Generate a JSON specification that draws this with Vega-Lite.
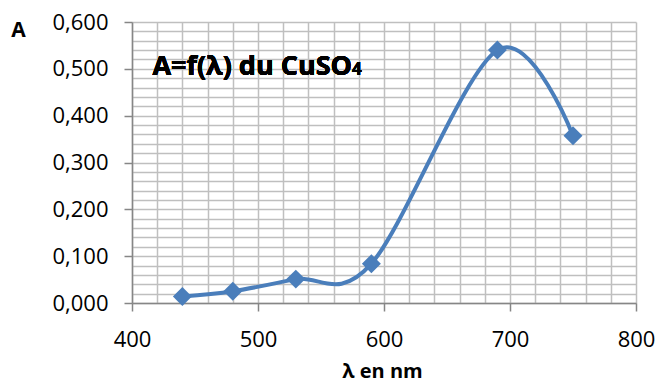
{
  "$schema": "https://vega.github.io/schema/vega-lite/v6.json",
  "autosize": {"type": "none"},
  "width": 504,
  "height": 281,
  "padding": {"left": 132, "top": 22, "right": 23, "bottom": 84},
  "background": "white",
  "config": {
    "view": {"stroke": null},
    "font": "Open Sans",
    "axis": {
      "labelFont": "Open Sans",
      "labelFontSize": 22,
      "labelColor": "#000000",
      "labelFlush": false,
      "labelOverlap": false,
      "titleFont": "Open Sans",
      "titleFontWeight": "bold",
      "titleColor": "#000000",
      "gridColor": "#bfbfbf",
      "gridWidth": 1.5,
      "domainColor": "#868686",
      "domainWidth": 1.5,
      "tickColor": "#868686",
      "tickWidth": 1.5,
      "tickSize": 8
    }
  },
  "data": {
    "values": [
      {"lambda": 440, "A": 0.014},
      {"lambda": 480, "A": 0.025},
      {"lambda": 530, "A": 0.051},
      {"lambda": 590, "A": 0.084},
      {"lambda": 690, "A": 0.540},
      {"lambda": 750, "A": 0.357}
    ]
  },
  "encoding": {
    "x": {
      "field": "lambda",
      "type": "quantitative",
      "scale": {"domain": [400, 800], "nice": false},
      "axis": {
        "title": "λ en nm",
        "titleFontSize": 20,
        "titleBaseline": "alphabetic",
        "titleAlign": "center",
        "titleX": 250,
        "titleY": 74,
        "grid": true,
        "values": [400,420,440,460,480,500,520,540,560,580,600,620,640,660,680,700,720,740,760,780,800],
        "labelExpr": "datum.value % 100 === 0 ? datum.label : ''",
        "labelPadding": 18,
        "tickOpacity": {"condition": {"test": "datum.value % 100 === 0", "value": 1}, "value": 0}
      }
    },
    "y": {
      "field": "A",
      "type": "quantitative",
      "scale": {"domain": [0, 0.6], "nice": false},
      "axis": {
        "title": "A",
        "titleFontSize": 21,
        "titleAngle": 0,
        "titleAlign": "center",
        "titleBaseline": "alphabetic",
        "titleX": -114,
        "titleY": 14,
        "grid": true,
        "values": [0,0.02,0.04,0.06,0.08,0.1,0.12,0.14,0.16,0.18,0.2,0.22,0.24,0.26,0.28,0.3,0.32,0.34,0.36,0.38,0.4,0.42,0.44,0.46,0.48,0.5,0.52,0.54,0.56,0.58,0.6],
        "labelExpr": "abs(datum.value*10 - round(datum.value*10)) < 1e-6 ? replace(format(datum.value, '.3f'), '.', ',') : ''",
        "labelPadding": 16,
        "tickOpacity": {"condition": {"test": "abs(datum.value*10 - round(datum.value*10)) < 1e-6", "value": 1}, "value": 0}
      }
    }
  },
  "layer": [
    {
      "mark": {"type": "line", "interpolate": "cardinal", "color": "#4a7ebb", "strokeWidth": 4}
    },
    {
      "mark": {"type": "point", "shape": "diamond", "filled": true, "size": 360, "color": "#4a7ebb", "opacity": 1}
    },
    {
      "mark": {"type": "text", "text": "A=f(λ) du CuSO", "font": "Open Sans", "fontSize": 27, "fontWeight": "bold", "align": "right", "baseline": "alphabetic", "color": "#000000"},
      "encoding": {
        "x": {"datum": 574.6},
        "y": {"datum": 0.4875}
      }
    },
    {
      "mark": {"type": "text", "text": "4", "font": "Open Sans", "fontSize": 17, "fontWeight": "bold", "align": "left", "baseline": "alphabetic", "color": "#000000"},
      "encoding": {
        "x": {"datum": 574.6},
        "y": {"datum": 0.4875}
      }
    }
  ]
}
